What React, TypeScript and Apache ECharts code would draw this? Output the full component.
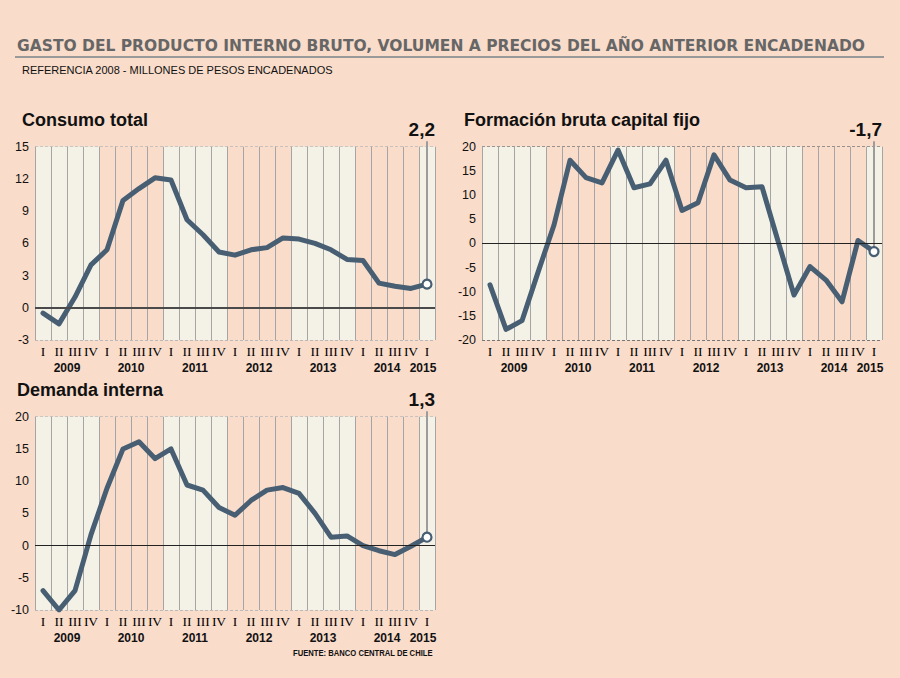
import React, { useEffect, useRef } from "react";
import * as echarts from "echarts";

// Quarterly GDP expenditure growth (% y/y), 2009 Q1 – 2015 Q1
const years = ["2009", "2010", "2011", "2012", "2013", "2014", "2015"];
const quarters = ["I", "II", "III", "IV"];

const consumoTotal = [
  -0.5, -1.5, 1.0, 4.0,
  5.4, 10.0, 11.1, 12.1,
  11.9, 8.2, 6.8, 5.2,
  4.9, 5.4, 5.6, 6.5,
  6.4, 6.0, 5.4, 4.5,
  4.4, 2.3, 2.0, 1.8,
  2.2,
];

const formacionBrutaCapitalFijo = [
  -8.6, -17.8, -16.0, -6.0,
  3.8, 17.2, 13.6, 12.5,
  19.3, 11.5, 12.3, 17.2,
  6.8, 8.4, 18.3, 13.1,
  11.5, 11.7, 0.5, -10.7,
  -4.8, -7.6, -12.1, 0.6,
  -1.7,
];

const demandaInterna = [
  -7.0, -10.0, -7.0, 1.7,
  8.9, 15.0, 16.1, 13.5,
  15.0, 9.4, 8.6, 5.9,
  4.7, 7.0, 8.6, 9.0,
  8.1, 5.0, 1.3, 1.5,
  0.0, -0.8, -1.4, -0.1,
  1.3,
];

const PAGE_BG = "#f9dcca";
const BAND_LIGHT = "#f4f2e7";
const LINE_COLOR = "#475e73";
const SANS = '"Liberation Sans", Arial, sans-serif';
const WIDE_SANS = '"DejaVu Sans", Verdana, sans-serif';
const SERIF = '"Liberation Serif", "Times New Roman", serif';

const categories = years
  .flatMap((y) => quarters.map((q) => `${y} ${q}`))
  .slice(0, consumoTotal.length);

type Panel = {
  title: string;
  values: number[];
  min: number;
  max: number;
  interval: number;
  grid: { left: number; top: number; width: number; height: number };
  titleAt: [number, number];
  dashColor: string;
  zeroColor: string;
  zeroWidth: number;
};

const panels: Panel[] = [
  {
    title: "Consumo total",
    values: consumoTotal,
    min: -3,
    max: 15,
    interval: 3,
    grid: { left: 35, top: 146.7, width: 400, height: 193.3 },
    titleAt: [22, 119.5],
    dashColor: "#b9b9b9",
    zeroColor: "#4a4a4a",
    zeroWidth: 2,
  },
  {
    title: "Formación bruta capital fijo",
    values: formacionBrutaCapitalFijo,
    min: -20,
    max: 20,
    interval: 5,
    grid: { left: 482, top: 146.7, width: 400, height: 193.3 },
    titleAt: [464, 119.5],
    dashColor: "#777777",
    zeroColor: "#222222",
    zeroWidth: 1.2,
  },
  {
    title: "Demanda interna",
    values: demandaInterna,
    min: -10,
    max: 20,
    interval: 5,
    grid: { left: 35, top: 416.7, width: 400, height: 193.3 },
    titleAt: [17, 389.5],
    dashColor: "#b9b9b9",
    zeroColor: "#222222",
    zeroWidth: 1.2,
  },
];

const formatValue = (v: number) => v.toFixed(1).replace(".", ",");

// Quarter numeral on the first line, the year under the middle of each year's quarters
const quarterLabel = (value: string) => {
  const [yr, q] = value.split(" ");
  const lastYear = years[years.length - 1];
  if (yr === lastYear && q === "I") return `{q|${q}}\n{yl|${yr}}`;
  if (q === "II") return `{q|${q}}\n{y|${yr}}`;
  return `{q|${q}}`;
};

function buildOption(): echarts.EChartsOption {
  const grid: any[] = [];
  const xAxis: any[] = [];
  const yAxis: any[] = [];
  const series: any[] = [];
  const graphic: any[] = [];

  panels.forEach((p, i) => {
    const last = p.values.length - 1;
    grid.push({ ...p.grid, containLabel: false });
    xAxis.push({
      type: "category",
      gridIndex: i,
      data: categories,
      boundaryGap: true,
      axisLine: { show: false },
      axisTick: { show: false },
      axisLabel: {
        interval: 0,
        margin: 2.5,
        formatter: quarterLabel,
        rich: {
          q: {
            fontFamily: SERIF,
            fontSize: 13.5,
            color: "#000",
            lineHeight: 17,
            align: "center",
          },
          y: {
            fontFamily: SANS,
            fontWeight: "bold",
            fontSize: 12,
            color: "#111",
            lineHeight: 17,
            align: "center",
            padding: [0, 0, 0, 16],
          },
          yl: {
            fontFamily: SANS,
            fontWeight: "bold",
            fontSize: 12,
            color: "#111",
            lineHeight: 17,
            align: "center",
            padding: [0, 8, 0, 0],
          },
        },
      },
      splitLine: {
        show: true,
        interval: 0,
        lineStyle: { color: "#a5a5a5", width: 1 },
      },
      splitArea: {
        show: true,
        interval: 3,
        areaStyle: { color: [BAND_LIGHT, PAGE_BG] },
      },
    });
    yAxis.push({
      type: "value",
      gridIndex: i,
      min: p.min,
      max: p.max,
      interval: p.interval,
      axisLine: { show: false },
      axisTick: { show: false },
      axisLabel: {
        fontFamily: SANS,
        fontSize: 12.5,
        color: "#111",
        margin: 6,
      },
      splitLine: {
        show: true,
        lineStyle: { color: p.dashColor, type: [3, 2], width: 1 },
      },
    });

    // Zero line, the leader from the latest quarter and its value label
    series.push({
      type: "custom",
      xAxisIndex: i,
      yAxisIndex: i,
      z: 1,
      silent: true,
      clip: false,
      data: [[last, p.values[last]]],
      renderItem: (_params: any, api: any) => {
        const pt = api.coord([api.value(0), api.value(1)]);
        const top = api.coord([api.value(0), p.max])[1];
        const band = api.size([1, 0])[0];
        return {
          type: "group",
          children: [
            {
              type: "line",
              shape: { x1: pt[0], y1: pt[1], x2: pt[0], y2: top - 5.5 },
              style: { stroke: "#9c9c9c", lineWidth: 2 },
            },
            {
              type: "text",
              style: {
                text: formatValue(api.value(1)),
                x: pt[0] + band / 2,
                y: top - 17,
                align: "right",
                verticalAlign: "middle",
                font: `bold 19px ${SANS}`,
                fill: "#111",
              },
            },
          ],
        };
      },
      markLine: {
        silent: true,
        symbol: "none",
        label: { show: false },
        lineStyle: { color: p.zeroColor, width: p.zeroWidth, type: "solid" },
        data: [{ yAxis: 0 }],
      },
    });

    series.push({
      type: "line",
      xAxisIndex: i,
      yAxisIndex: i,
      z: 3,
      data: p.values,
      showSymbol: true,
      showAllSymbol: true,
      symbol: "circle",
      symbolSize: (_v: any, params: any) => (params.dataIndex === last ? 9 : 0),
      itemStyle: { color: "#ffffff", borderColor: LINE_COLOR, borderWidth: 2.2 },
      lineStyle: { color: LINE_COLOR, width: 5, cap: "round", join: "round" },
    });

    graphic.push({
      type: "text",
      x: p.titleAt[0],
      y: p.titleAt[1],
      style: {
        text: p.title,
        font: `bold 18px ${SANS}`,
        fill: "#111",
        verticalAlign: "middle",
      },
    });
  });

  graphic.push(
    {
      type: "text",
      x: 17,
      y: 45.5,
      style: {
        text: "GASTO DEL PRODUCTO INTERNO BRUTO, VOLUMEN A PRECIOS DEL AÑO ANTERIOR ENCADENADO",
        font: `bold 15.5px ${WIDE_SANS}`,
        fill: "#666666",
        verticalAlign: "middle",
      },
    },
    {
      type: "line",
      shape: { x1: 15, y1: 57, x2: 884, y2: 57 },
      style: { stroke: "#999999", lineWidth: 2 },
    },
    {
      type: "text",
      x: 22,
      y: 69.5,
      style: {
        text: "REFERENCIA 2008 - MILLONES DE PESOS ENCADENADOS",
        font: `11px ${SANS}`,
        fill: "#111",
        verticalAlign: "middle",
      },
    },
    {
      type: "text",
      x: 293,
      y: 653,
      scaleX: 0.9,
      style: {
        text: "FUENTE: BANCO CENTRAL DE CHILE",
        font: `bold 8.5px ${SANS}`,
        fill: "#111",
        verticalAlign: "middle",
      },
    }
  );

  return {
    animation: false,
    backgroundColor: PAGE_BG,
    grid,
    xAxis,
    yAxis,
    series,
    graphic,
  };
}

export default function App() {
  const ref = useRef<HTMLDivElement>(null);
  useEffect(() => {
    if (!ref.current) return;
    const chart = echarts.init(ref.current, undefined, { renderer: "svg" });
    chart.setOption(buildOption());
    return () => chart.dispose();
  }, []);
  return (
    <div
      ref={ref}
      style={{
        position: "fixed",
        left: 0,
        top: 0,
        width: 900,
        height: 678,
        background: PAGE_BG,
      }}
    />
  );
}
